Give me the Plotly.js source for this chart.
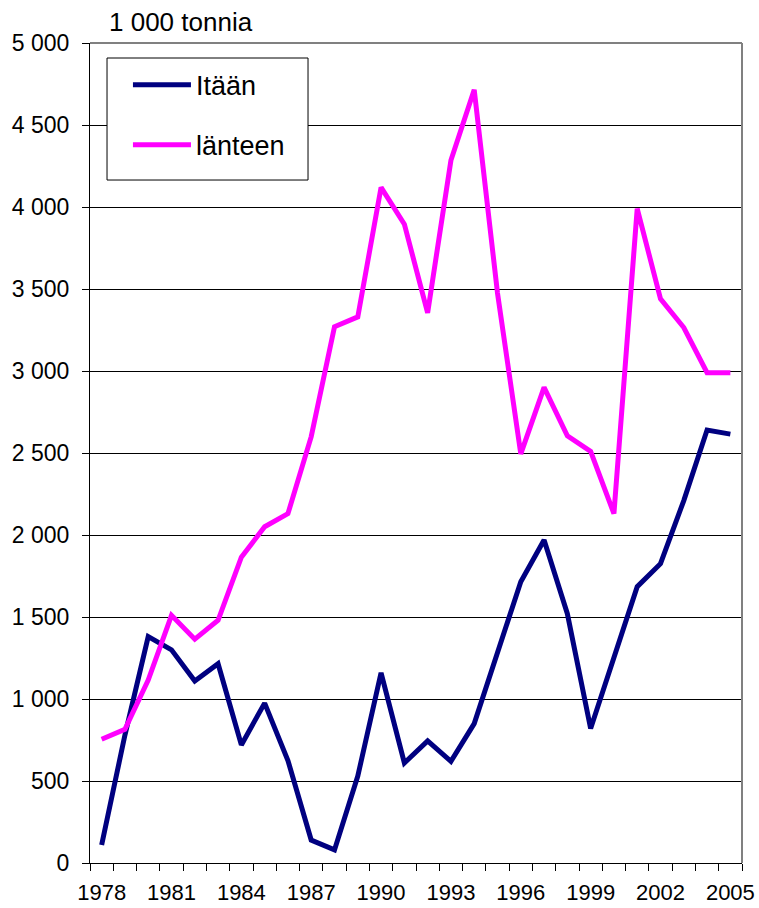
<!DOCTYPE html>
<html>
<head>
<meta charset="utf-8">
<script src="https://cdn.plot.ly/plotly-3.0.1.min.js"></script>
<style>html,body{margin:0;padding:0;background:#fff;}#chart{width:759px;height:908px;}</style>
</head>
<body>
<div id="chart"></div>
<script>
var years = [1978,1979,1980,1981,1982,1983,1984,1985,1986,1987,1988,1989,1990,1991,1992,1993,1994,1995,1996,1997,1998,1999,2000,2001,2002,2003,2004,2005];
var itaan = [110,780,1380,1300,1110,1215,720,975,625,140,80,530,1160,610,745,620,850,1280,1715,1970,1520,820,1250,1685,1825,2210,2640,2615];
var lanteen = [755,815,1115,1510,1365,1480,1865,2050,2130,2600,3270,3330,4120,3895,3355,4285,4715,3475,2495,2900,2605,2510,2130,3990,3440,3265,2990,2990];
var xTickYears = [1978,1981,1984,1987,1990,1993,1996,1999,2002,2005];
var seriesNames = ['Itään','länteen'];
var unitLabel = '1 000 tonnia';

var font = 'Liberation Sans, Arial, sans-serif';
var traces = [
  {x: years, y: itaan, name: seriesNames[0], type: 'scatter', mode: 'lines',
   line: {color: '#000080', width: 5}, legendgroup: 'a'},
  {x: years, y: lanteen, name: seriesNames[1], type: 'scatter', mode: 'lines',
   line: {color: '#FF00FF', width: 5}, legendgroup: 'b'}
];
var layout = {
  width: 759, height: 908,
  margin: {l: 90, r: 17, t: 43, b: 45},
  paper_bgcolor: '#fff', plot_bgcolor: '#fff',
  separators: ', ',
  font: {family: font, size: 23, color: '#000'},
  showlegend: true,
  legend: {x: 0.026, y: 0.9785, xanchor: 'left', yanchor: 'top',
    bgcolor: 'rgba(0,0,0,0)', borderwidth: 0, indentation: 21,
    font: {size: 27, family: font, color: '#000'},
    tracegroupgap: 22, itemwidth: 58},
  xaxis: {type: 'linear', range: [1977.5, 2005.5], tickmode: 'array', tickvals: xTickYears,
    ticks: '', showgrid: false, showline: true, linecolor: '#000', linewidth: 1,
    zeroline: false, ticklabelstandoff: 10, tickfont: {size: 22},
    minor: {tickmode: 'linear', tick0: 1977.5, dtick: 1, ticks: 'outside', ticklen: 7, tickcolor: '#000', showgrid: false}},
  yaxis: {range: [0, 5000], dtick: 500, tick0: 0, ticks: 'outside', ticklen: 7, tickcolor: '#000',
    showgrid: true, gridcolor: '#000', gridwidth: 1, showline: true, linecolor: '#000', linewidth: 1,
    zeroline: false, separatethousands: true, exponentformat: 'none', ticklabelstandoff: 8, tickfont: {size: 23}},
  shapes: [
    {type: 'line', xref: 'paper', yref: 'paper', x0: 1, x1: 1, y0: 0, y1: 1, line: {color: '#808080', width: 2}},
    {type: 'line', xref: 'paper', yref: 'paper', x0: 0, x1: 1, y0: 1, y1: 1, line: {color: '#808080', width: 2}},
    {type: 'rect', xref: 'paper', yref: 'paper', x0: 0.0261, x1: 0.3344, y0: 0.8329, y1: 0.9817,
     fillcolor: '#fff', line: {color: '#000', width: 1}, layer: 'above'}
  ],
  annotations: [
    {text: unitLabel, xref: 'paper', yref: 'paper', x: 0.026, y: 1, xanchor: 'left', yanchor: 'bottom',
     yshift: 4, showarrow: false, font: {size: 26, family: font, color: '#000'}}
  ]
};
Plotly.newPlot('chart', traces, layout, {displayModeBar: false, staticPlot: true});
</script>
</body>
</html>
